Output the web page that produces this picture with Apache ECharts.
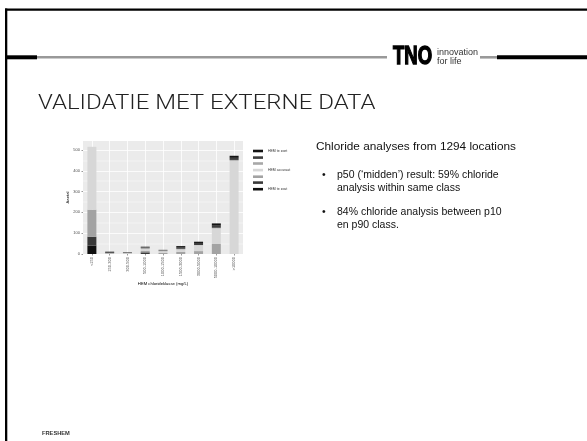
<!DOCTYPE html>
<html>
<head>
<meta charset="utf-8">
<script src="https://cdn.jsdelivr.net/npm/echarts@6/dist/echarts.min.js"></script>
<style>
  html, body { margin: 0; padding: 0; background: #fff; }
  #slide { width: 587px; height: 441px; }
</style>
</head>
<body>
<div id="slide"></div>
<script>
  // chlorideklassen (x-as)
  const klassen = ['<150', '150-300', '300-500', '500-1000', '1000-1500', '1500-3000', '3000-5000', '5000-10000', '>10000'];
  const yTicks = [0, 100, 200, 300, 400, 500];

  // aantallen per HEM klasse, van te zoet (boven) naar te zout (onder)
  const teZoet3 = [0, 3, 0, 2, 0, 5, 6, 11, 10];
  const teZoet2 = [0, 4, 3, 3, 3, 8, 10, 10, 10];
  const teZoet1 = [0, 0, 2, 6, 4, 3, 0, 3, 4];
  const accuraat = [302, 2, 3, 8, 8, 12, 29, 75, 448];
  const teZout1 = [130, 2, 0, 8, 5, 10, 14, 48, 0];
  const teZout2 = [43, 0, 0, 8, 0, 0, 0, 0, 0];
  const teZout3 = [40, 0, 0, 0, 0, 0, 0, 0, 0];

  const legendLabels = { 'HEM te zoet': 'HEM te zoet', 'HEM accuraat': 'HEM accuraat', 'HEM te zout': 'HEM te zout' };

  const chart = echarts.init(document.getElementById('slide'));

  function bar(name, data, color) {
    return {
      name: name,
      type: 'bar',
      stack: 'totaal',
      barWidth: 9,
      itemStyle: { color: color },
      data: data
    };
  }

  const option = {
    animation: false,
    backgroundColor: '#fff',
    grid: {
      left: 83, top: 141, width: 160, height: 113,
      show: true, backgroundColor: '#ebebeb', borderWidth: 0
    },
    legend: {
      orient: 'vertical',
      left: 248, top: 144,
      itemWidth: 10, itemHeight: 2.6, itemGap: 3.3,
      icon: 'rect',
      selectedMode: false,
      data: ['HEM te zoet', 'zoet2', 'zoet1', 'HEM accuraat', 'zout1', 'zout2', 'HEM te zout'],
      formatter: name => legendLabels[name] || '',
      textStyle: { fontSize: 3.5, lineHeight: 2.6, color: '#333', fontFamily: 'Liberation Sans' }
    },
    xAxis: {
      type: 'category',
      data: klassen,
      name: 'HEM chlorideklasse (mg/L)',
      nameLocation: 'middle',
      nameGap: 28,
      nameTextStyle: { fontSize: 4.2, color: '#000', fontFamily: 'Liberation Sans' },
      axisLine: { show: false },
      axisTick: { show: true, alignWithLabel: true, length: 1.5, lineStyle: { color: '#333', width: 0.5 } },
      axisLabel: { rotate: 90, fontSize: 4, color: '#4d4d4d', margin: 3, fontFamily: 'Liberation Sans', interval: 0 },
      splitLine: { show: true, alignWithLabel: true, lineStyle: { color: '#fff', width: 0.8 } }
    },
    yAxis: {
      type: 'value',
      min: 0, max: 543, interval: 100,
      name: 'Aantal',
      nameLocation: 'middle',
      nameRotate: 90,
      nameGap: 13,
      nameTextStyle: { fontSize: 4.2, color: '#000', fontFamily: 'Liberation Sans' },
      axisLine: { show: false },
      axisTick: { show: true, customValues: yTicks, length: 1.5, lineStyle: { color: '#333', width: 0.5 } },
      axisLabel: { customValues: yTicks, fontSize: 4, color: '#4d4d4d', margin: 3, fontFamily: 'Liberation Sans' },
      splitLine: { show: true, lineStyle: { color: '#fff', width: 0.8 } },
      minorTick: { show: false, splitNumber: 2 },
      minorSplitLine: { show: true, lineStyle: { color: '#fff', width: 0.4 } }
    },
    series: [
      bar('HEM te zout', teZout3, '#0f0f0f'),
      bar('zout2', teZout2, '#393939'),
      bar('zout1', teZout1, '#a3a3a3'),
      bar('HEM accuraat', accuraat, '#d7d7d7'),
      bar('zoet1', teZoet1, '#a8a8a8'),
      bar('zoet2', teZoet2, '#3d3d3d'),
      bar('HEM te zoet', teZoet3, '#141414')
    ],
    graphic: [
      // dia rand
      { type: 'rect', shape: { x: 5, y: 8.5, width: 582, height: 2.3 }, style: { fill: '#000' } },
      { type: 'rect', shape: { x: 5, y: 8.5, width: 2.3, height: 433 }, style: { fill: '#000' } },
      // kopbalk
      { type: 'rect', shape: { x: 7, y: 55.3, width: 30, height: 4 }, style: { fill: '#000' } },
      { type: 'rect', shape: { x: 37, y: 56, width: 350, height: 2.6 }, style: { fill: '#999' } },
      { type: 'rect', shape: { x: 480, y: 56, width: 17, height: 2.6 }, style: { fill: '#999' } },
      { type: 'rect', shape: { x: 497, y: 55.3, width: 90, height: 4 }, style: { fill: '#000' } },
      {
        type: 'text', x: 393, y: 57, scaleX: 0.74,
        style: { text: 'TNO', fontSize: 25, fontWeight: 'bold', fontFamily: 'Liberation Sans', fill: '#000', stroke: '#000', lineWidth: 1.4, textVerticalAlign: 'middle' }
      },
      {
        type: 'text', x: 437, y: 53,
        style: { text: 'innovation', fontSize: 9, fontFamily: 'Liberation Sans', fill: '#333', textVerticalAlign: 'middle' }
      },
      {
        type: 'text', x: 437, y: 61.5,
        style: { text: 'for life', fontSize: 9, fontFamily: 'Liberation Sans', fill: '#333', textVerticalAlign: 'middle' }
      },
      // titel
      {
        type: 'text', x: 38, y: 104, scaleX: 1.2,
        style: { text: 'VALIDATIE MET EXTERNE DATA', fontSize: 20, fontWeight: 300, fontFamily: 'Roboto', fill: '#222', textVerticalAlign: 'middle' }
      },
      // tekst rechts
      {
        type: 'text', x: 316, y: 147,
        style: { text: 'Chloride analyses from 1294 locations', fontSize: 11.8, fontFamily: 'Liberation Sans', fill: '#111', textVerticalAlign: 'middle' }
      },
      { type: 'text', x: 322, y: 175, style: { text: '•', fontSize: 10.5, fontFamily: 'Liberation Sans', fill: '#111', textVerticalAlign: 'middle' } },
      {
        type: 'text', x: 337, y: 175,
        style: { text: 'p50 (\u2018midden\u2019) result: 59% chloride\nanalysis within same class', fontSize: 10.5, lineHeight: 12.5, fontFamily: 'Liberation Sans', fill: '#111', textVerticalAlign: 'top', y: -6 }
      },
      { type: 'text', x: 322, y: 212, style: { text: '•', fontSize: 10.5, fontFamily: 'Liberation Sans', fill: '#111', textVerticalAlign: 'middle' } },
      {
        type: 'text', x: 337, y: 212,
        style: { text: '84% chloride analysis between p10\nen p90 class.', fontSize: 10.5, lineHeight: 12.5, fontFamily: 'Liberation Sans', fill: '#111', textVerticalAlign: 'top', y: -6 }
      },
      // voettekst
      {
        type: 'text', x: 42, y: 433,
        style: { text: 'FRESHEM', fontSize: 5.7, fontWeight: 'bold', fontFamily: 'Liberation Sans', fill: '#333', textVerticalAlign: 'middle' }
      }
    ]
  };

  chart.setOption(option);
</script>
</body>
</html>
